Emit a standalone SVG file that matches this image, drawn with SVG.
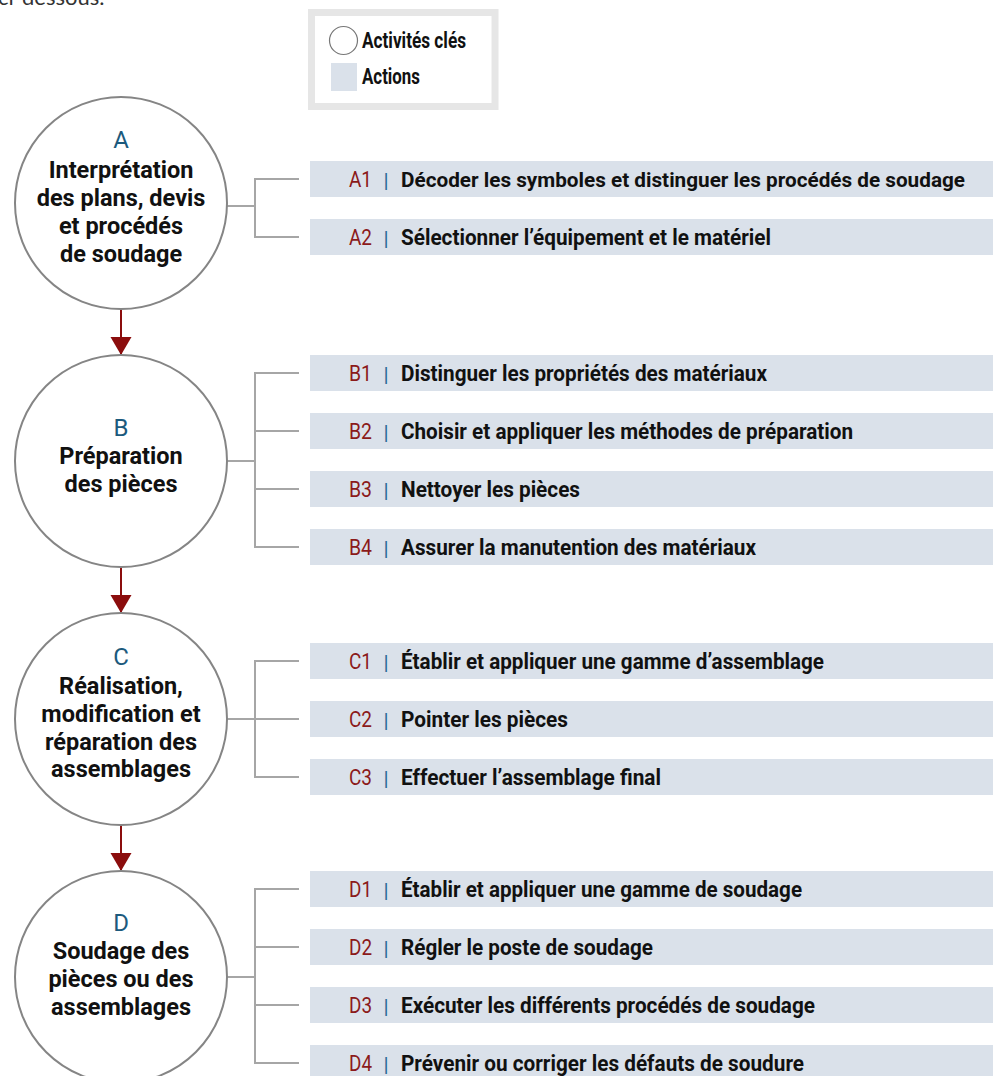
<svg xmlns="http://www.w3.org/2000/svg" width="993" height="1076" viewBox="0 0 993 1076">
<defs>
<style>
.act{fill:#fff;stroke:#858585;stroke-width:2}
.letter{font-family:Roboto,"Liberation Sans",sans-serif;font-size:24px;fill:#1c5a7d;text-anchor:middle}
.title{font-family:Roboto,"Liberation Sans",sans-serif;font-size:23.5px;font-weight:700;fill:#111;text-anchor:middle}
.bar{fill:#dae1ea}
.code{font-family:Roboto,"Liberation Sans",sans-serif;font-size:22px;fill:#8b1a1a}
.sep{font-family:Roboto,"Liberation Sans",sans-serif;font-size:21px;fill:#2a6a94;text-anchor:middle}
.lbl{font-family:Roboto,"Liberation Sans",sans-serif;font-size:22px;font-weight:700;fill:#111}
.lbl.long{font-size:20.5px}
.tree{fill:none;stroke:#a6a6a6;stroke-width:2}
.flow{fill:none;stroke:#8b0d0d;stroke-width:2;marker-end:url(#arr)}
.intro{font-family:Lato,"Open Sans","Liberation Sans",sans-serif;font-size:22px;fill:#333}
</style>
<marker id="arr" markerUnits="userSpaceOnUse" markerWidth="22" markerHeight="22" viewBox="0 0 22 22" refX="18" refY="10.5" orient="auto">
<path d="M0,0 L18,10.5 L0,21 Z" fill="#8b0d0d"/>
</marker>
</defs>
<rect width="993" height="1076" fill="#fff"/>
<text class="intro" x="-2" y="5">ci-dessous.</text>

<g id="legend">
<rect x="311.5" y="12.5" width="183.5" height="94" fill="#fff" stroke="#e6e6e6" stroke-width="7"/>
<circle cx="343.5" cy="40.5" r="14" fill="#fff" stroke="#777" stroke-width="1.2"/>
<text class="lbl" x="362" y="48" textLength="104" lengthAdjust="spacingAndGlyphs">Activités clés</text>
<rect class="bar" x="331" y="63" width="26" height="28"/>
<text class="lbl" x="362" y="84" textLength="58" lengthAdjust="spacingAndGlyphs">Actions</text>
</g>

<g id="connectors">
<line class="flow" x1="121" y1="309" x2="121" y2="355"/>
<line class="flow" x1="121" y1="567" x2="121" y2="613"/>
<line class="flow" x1="121" y1="825" x2="121" y2="871"/>
<path class="tree" d="M227,206 H255 M299,179 H255 V237 H299"/>
<path class="tree" d="M227,461 H255 M299,373 H255 V547 H299 M255,431 H299 M255,489 H299"/>
<path class="tree" d="M227,719 H255 M299,661 H255 V777 H299 M255,719 H299"/>
<path class="tree" d="M227,977 H255 M299,889 H255 V1063 H299 M255,947 H299 M255,1005 H299"/>
</g>

<g id="node-A">
<circle class="act" cx="121" cy="203" r="106"/>
<text class="letter" x="121" y="148">A</text>
<text class="title" x="121" y="178">Interprétation</text>
<text class="title" x="121" y="206">des plans, devis</text>
<text class="title" x="121" y="234">et procédés</text>
<text class="title" x="121" y="262">de soudage</text>
</g>
<g id="node-B">
<circle class="act" cx="121" cy="461" r="106"/>
<text class="letter" x="121" y="436">B</text>
<text class="title" x="121" y="464">Préparation</text>
<text class="title" x="121" y="492">des pièces</text>
</g>
<g id="node-C">
<circle class="act" cx="121" cy="719" r="106"/>
<text class="letter" x="121" y="665">C</text>
<text class="title" x="121" y="694">Réalisation,</text>
<text class="title" x="121" y="722">modification et</text>
<text class="title" x="121" y="750">réparation des</text>
<text class="title" x="121" y="777">assemblages</text>
</g>
<g id="node-D">
<circle class="act" cx="121" cy="977" r="106"/>
<text class="letter" x="121" y="931">D</text>
<text class="title" x="121" y="959">Soudage des</text>
<text class="title" x="121" y="987">pièces ou des</text>
<text class="title" x="121" y="1015">assemblages</text>
</g>

<g id="action-A1"><rect class="bar" x="310" y="161" width="683" height="36"/><text class="code" x="349" y="187" textLength="23" lengthAdjust="spacingAndGlyphs">A1</text><text class="sep" x="386" y="188">|</text><text class="lbl long" x="401" y="187" textLength="564" lengthAdjust="spacingAndGlyphs">Décoder les symboles et distinguer les procédés de soudage</text></g>
<g id="action-A2"><rect class="bar" x="310" y="219" width="683" height="36"/><text class="code" x="349" y="245" textLength="23" lengthAdjust="spacingAndGlyphs">A2</text><text class="sep" x="386" y="246">|</text><text class="lbl" x="401" y="245" textLength="370" lengthAdjust="spacingAndGlyphs">Sélectionner l’équipement et le matériel</text></g>

<g id="action-B1"><rect class="bar" x="310" y="355" width="683" height="36"/><text class="code" x="349" y="381" textLength="23" lengthAdjust="spacingAndGlyphs">B1</text><text class="sep" x="386" y="382">|</text><text class="lbl" x="401" y="381" textLength="366" lengthAdjust="spacingAndGlyphs">Distinguer les propriétés des matériaux</text></g>
<g id="action-B2"><rect class="bar" x="310" y="413" width="683" height="36"/><text class="code" x="349" y="439" textLength="23" lengthAdjust="spacingAndGlyphs">B2</text><text class="sep" x="386" y="440">|</text><text class="lbl" x="401" y="439" textLength="452" lengthAdjust="spacingAndGlyphs">Choisir et appliquer les méthodes de préparation</text></g>
<g id="action-B3"><rect class="bar" x="310" y="471" width="683" height="36"/><text class="code" x="349" y="497" textLength="23" lengthAdjust="spacingAndGlyphs">B3</text><text class="sep" x="386" y="498">|</text><text class="lbl" x="401" y="497" textLength="179" lengthAdjust="spacingAndGlyphs">Nettoyer les pièces</text></g>
<g id="action-B4"><rect class="bar" x="310" y="529" width="683" height="36"/><text class="code" x="349" y="555" textLength="23" lengthAdjust="spacingAndGlyphs">B4</text><text class="sep" x="386" y="556">|</text><text class="lbl" x="401" y="555" textLength="355" lengthAdjust="spacingAndGlyphs">Assurer la manutention des matériaux</text></g>

<g id="action-C1"><rect class="bar" x="310" y="643" width="683" height="36"/><text class="code" x="349" y="669" textLength="23" lengthAdjust="spacingAndGlyphs">C1</text><text class="sep" x="386" y="670">|</text><text class="lbl" x="401" y="669" textLength="423" lengthAdjust="spacingAndGlyphs">Établir et appliquer une gamme d’assemblage</text></g>
<g id="action-C2"><rect class="bar" x="310" y="701" width="683" height="36"/><text class="code" x="349" y="727" textLength="23" lengthAdjust="spacingAndGlyphs">C2</text><text class="sep" x="386" y="728">|</text><text class="lbl" x="401" y="727" textLength="167" lengthAdjust="spacingAndGlyphs">Pointer les pièces</text></g>
<g id="action-C3"><rect class="bar" x="310" y="759" width="683" height="36"/><text class="code" x="349" y="785" textLength="23" lengthAdjust="spacingAndGlyphs">C3</text><text class="sep" x="386" y="786">|</text><text class="lbl" x="401" y="785" textLength="260" lengthAdjust="spacingAndGlyphs">Effectuer l’assemblage final</text></g>

<g id="action-D1"><rect class="bar" x="310" y="871" width="683" height="36"/><text class="code" x="349" y="897" textLength="23" lengthAdjust="spacingAndGlyphs">D1</text><text class="sep" x="386" y="898">|</text><text class="lbl" x="401" y="897" textLength="401" lengthAdjust="spacingAndGlyphs">Établir et appliquer une gamme de soudage</text></g>
<g id="action-D2"><rect class="bar" x="310" y="929" width="683" height="36"/><text class="code" x="349" y="955" textLength="23" lengthAdjust="spacingAndGlyphs">D2</text><text class="sep" x="386" y="956">|</text><text class="lbl" x="401" y="955" textLength="252" lengthAdjust="spacingAndGlyphs">Régler le poste de soudage</text></g>
<g id="action-D3"><rect class="bar" x="310" y="987" width="683" height="36"/><text class="code" x="349" y="1013" textLength="23" lengthAdjust="spacingAndGlyphs">D3</text><text class="sep" x="386" y="1014">|</text><text class="lbl" x="401" y="1013" textLength="414" lengthAdjust="spacingAndGlyphs">Exécuter les différents procédés de soudage</text></g>
<g id="action-D4"><rect class="bar" x="310" y="1045" width="683" height="36"/><text class="code" x="349" y="1071" textLength="23" lengthAdjust="spacingAndGlyphs">D4</text><text class="sep" x="386" y="1072">|</text><text class="lbl" x="401" y="1071" textLength="403" lengthAdjust="spacingAndGlyphs">Prévenir ou corriger les défauts de soudure</text></g>
</svg>
